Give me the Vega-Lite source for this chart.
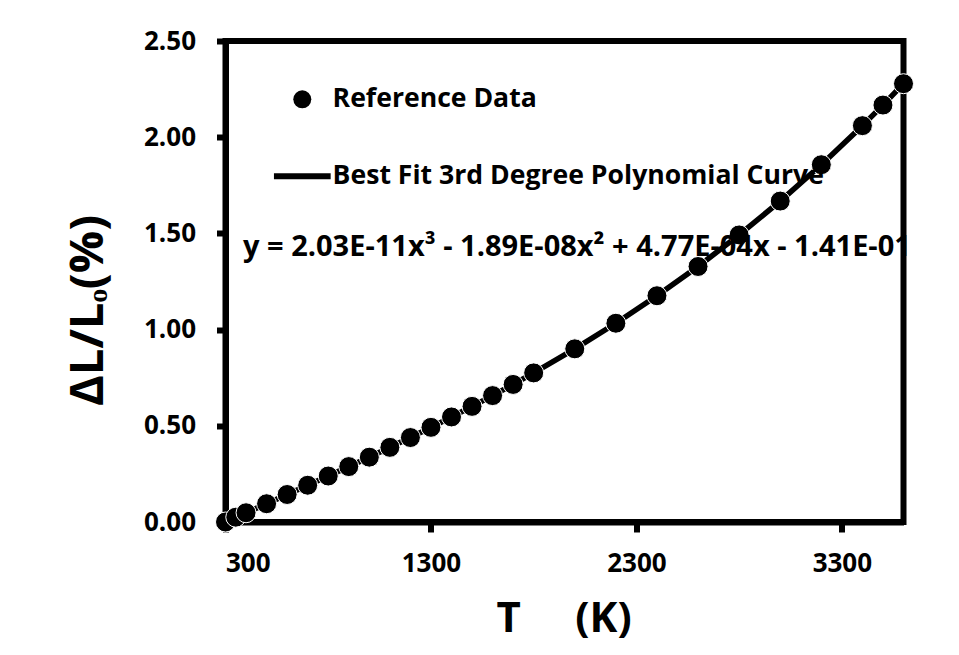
{
  "$schema": "https://vega.github.io/schema/vega-lite/v6.json",
  "width": 678,
  "height": 481,
  "autosize": {"type": "none"},
  "padding": {"left": 225.5, "top": 41, "right": 55.5, "bottom": 133},
  "background": "white",
  "view": {"stroke": "black", "strokeWidth": 6},
  "title": {
    "text": "y = 2.03E-11x³ - 1.89E-08x² + 4.77E-04x - 1.41E-01",
    "anchor": "start",
    "orient": "top",
    "frame": "group",
    "offset": 0,
    "dx": 17.5,
    "dy": 257,
    "baseline": "alphabetic",
    "font": "Open Sans",
    "fontSize": 29,
    "fontWeight": "bold",
    "color": "black"
  },
  "config": {
    "axis": {
      "domain": true,
      "domainColor": "black",
      "domainWidth": 6,
      "grid": false,
      "ticks": true,
      "tickColor": "black",
      "tickWidth": 6,
      "labelFont": "Open Sans",
      "labelFontWeight": "bold",
      "labelFontSize": 26,
      "labelColor": "black",
      "titleFont": "Open Sans",
      "titleFontWeight": "bold",
      "titleFontSize": 42,
      "titleColor": "black"
    }
  },
  "data": {
    "values": [
      {"T": 300, "dl": 0.0, "series": "Reference Data"},
      {"T": 350, "dl": 0.025, "series": "Reference Data"},
      {"T": 400, "dl": 0.048, "series": "Reference Data"},
      {"T": 500, "dl": 0.095, "series": "Reference Data"},
      {"T": 600, "dl": 0.143, "series": "Reference Data"},
      {"T": 700, "dl": 0.191, "series": "Reference Data"},
      {"T": 800, "dl": 0.239, "series": "Reference Data"},
      {"T": 900, "dl": 0.288, "series": "Reference Data"},
      {"T": 1000, "dl": 0.337, "series": "Reference Data"},
      {"T": 1100, "dl": 0.388, "series": "Reference Data"},
      {"T": 1200, "dl": 0.439, "series": "Reference Data"},
      {"T": 1300, "dl": 0.492, "series": "Reference Data"},
      {"T": 1400, "dl": 0.546, "series": "Reference Data"},
      {"T": 1500, "dl": 0.601, "series": "Reference Data"},
      {"T": 1600, "dl": 0.657, "series": "Reference Data"},
      {"T": 1700, "dl": 0.715, "series": "Reference Data"},
      {"T": 1800, "dl": 0.775, "series": "Reference Data"},
      {"T": 2000, "dl": 0.900, "series": "Reference Data"},
      {"T": 2200, "dl": 1.033, "series": "Reference Data"},
      {"T": 2400, "dl": 1.176, "series": "Reference Data"},
      {"T": 2600, "dl": 1.328, "series": "Reference Data"},
      {"T": 2800, "dl": 1.492, "series": "Reference Data"},
      {"T": 3000, "dl": 1.668, "series": "Reference Data"},
      {"T": 3200, "dl": 1.857, "series": "Reference Data"},
      {"T": 3400, "dl": 2.060, "series": "Reference Data"},
      {"T": 3500, "dl": 2.167, "series": "Reference Data"},
      {"T": 3600, "dl": 2.278, "series": "Reference Data"}
    ]
  },
  "encoding": {
    "x": {
      "field": "T",
      "type": "quantitative",
      "scale": {"domain": [300, 3600], "nice": false, "zero": false},
      "axis": {
        "values": [300, 1300, 2300, 3300],
        "format": "d",
        "tickSize": 10,
        "labelPadding": 18,
        "title": "T\u00a0\u00a0\u00a0\u00a0\u00a0(K)",
        "titleX": 338,
        "titleY": 109.5,
        "titleBaseline": "alphabetic",
        "titleAlign": "center"
      }
    },
    "y": {
      "field": "dl",
      "type": "quantitative",
      "scale": {"domain": [0, 2.5], "nice": false, "zero": true},
      "axis": {
        "values": [0, 0.5, 1.0, 1.5, 2.0, 2.5],
        "format": ".2f",
        "tickSize": 9,
        "labelPadding": 21,
        "title": "ΔL/Lₒ(%)",
        "titleFontSize": 47,
        "titleX": -123,
        "titleY": 269,
        "titleBaseline": "alphabetic",
        "titleAlign": "center",
        "titleAngle": -90
      }
    }
  },
  "layer": [
    {
      "mark": {"type": "line", "color": "black", "strokeWidth": 5.5, "strokeJoin": "round"}
    },
    {
      "mark": {"type": "point", "filled": true, "fill": "black", "stroke": "white", "strokeWidth": 1, "size": 400, "opacity": 1},
      "encoding": {
        "shape": {
          "field": "series",
          "type": "nominal",
          "scale": {
            "domain": ["Reference Data", "Best Fit 3rd Degree Polynomial Curve"],
            "range": ["circle", "M-3.15,-0.33H3.15V0.33H-3.15Z"]
          },
          "legend": {
            "orient": "none",
            "legendX": 63.5,
            "legendY": 45,
            "title": null,
            "padding": 0,
            "symbolSize": 324,
            "symbolFillColor": "black",
            "symbolStrokeWidth": 0,
            "labelFont": "Open Sans",
            "labelFontWeight": "bold",
            "labelFontSize": 26.6,
            "labelColor": "black",
            "labelOffset": 17,
            "rowPadding": 50,
            "labelLimit": 800
          }
        }
      }
    }
  ]
}
